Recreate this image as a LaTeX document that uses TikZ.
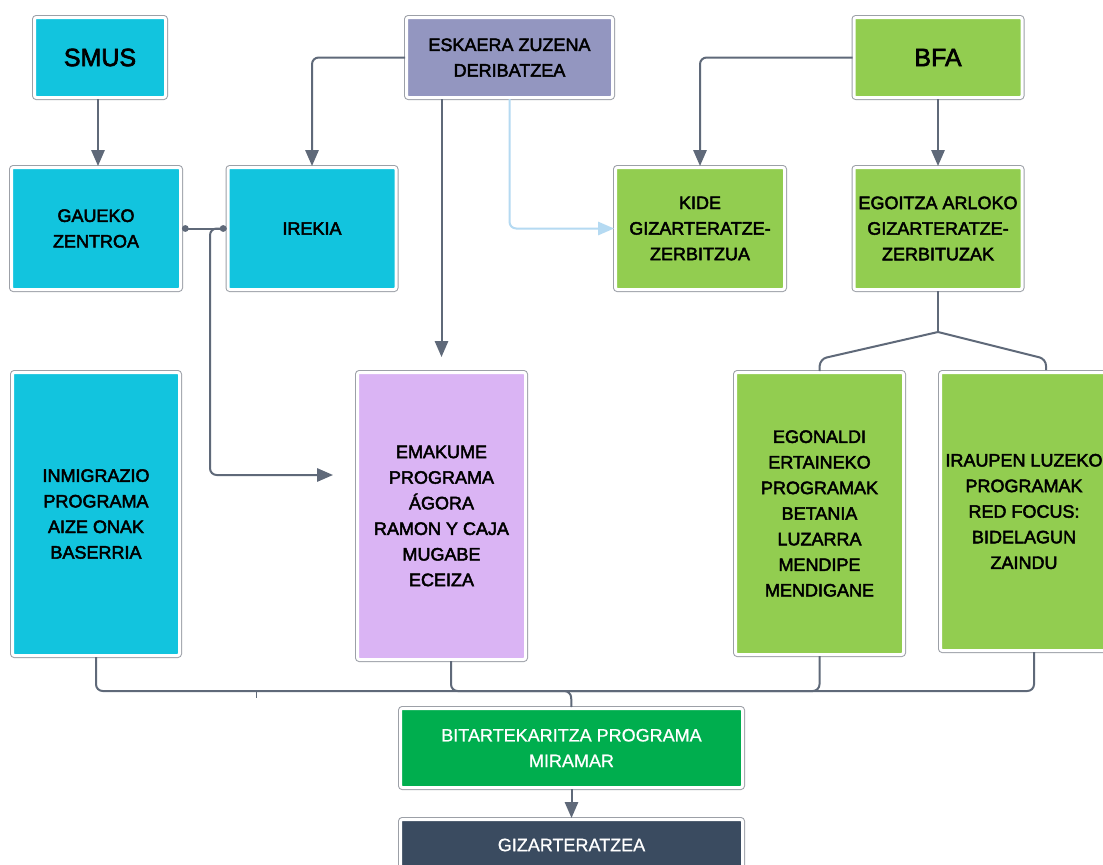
\documentclass[tikz,border=0pt]{standalone}
\usepackage{fontspec}
\setmainfont{Liberation Sans}[FakeBold=2.6]
\newfontfamily\plainfont{Liberation Sans}[FakeBold=0.8]
\usetikzlibrary{arrows.meta}
\definecolor{cyanbox}{HTML}{12C4DE}
\definecolor{purplebox}{HTML}{9396C0}
\definecolor{greenbox}{HTML}{92CD50}
\definecolor{lilacbox}{HTML}{DAB4F4}
\definecolor{darkgreen}{HTML}{00AE4E}
\definecolor{navybox}{HTML}{3A4B60}
\definecolor{edge}{HTML}{9CA0A7}
\definecolor{conn}{HTML}{5F6979}
\definecolor{lightblue}{HTML}{B5DAF2}
\tikzset{
  bx/.style={rectangle, rounded corners=1.5pt, inner sep=0pt, align=center,
    font=\fontsize{13.5pt}{19.2pt}\selectfont, text=black,
    preaction={draw=edge, line width=3.75pt},
    draw=white, line width=2.25pt},
  whitebx/.style={bx, text=white, font=\plainfont\fontsize{13.5pt}{19.2pt}\selectfont},
  big/.style={font=\fontsize{18.75pt}{22pt}\selectfont},
  line/.style={draw=conn, line width=1.5pt, rounded corners=5pt},
  arr/.style={line, -{Triangle[length=12pt,width=10pt]}},
  dotline/.style={draw=conn, line width=1.5pt, {Circle[length=5pt]}-{Circle[length=5pt]}},
}
\begin{document}
\begin{tikzpicture}[x=0.75pt,y=-0.75pt]
\useasboundingbox (0,0) rectangle (1103,864);
\clip (0,0) rectangle (1103,864);
\fill[white] (0,0) rectangle (1103,864);
% top row
\node[bx, big, fill=cyanbox, minimum width=98.25pt, minimum height=60pt] (smus) at (100,57.5) {SMUS};
\node[bx, fill=purplebox, minimum width=154.5pt, minimum height=60pt] (esk) at (509.5,57.5) {ESKAERA ZUZENA\\DERIBATZEA};
\node[bx, big, fill=greenbox, minimum width=126pt, minimum height=60pt] (bfa) at (938,57.5) {BFA};
% second row
\node[bx, fill=cyanbox, minimum width=126.75pt, minimum height=91.5pt] (gaueko) at (96,228.5) {GAUEKO\\ZENTROA};
\node[bx, fill=cyanbox, minimum width=126pt, minimum height=91.5pt] (irekia) at (312,228.5) {IREKIA};
\node[bx, fill=greenbox, minimum width=126.75pt, minimum height=91.5pt] (kide) at (700,228.5) {KIDE\\GIZARTERATZE-\\ZERBITZUA};
\node[bx, fill=greenbox, minimum width=126pt, minimum height=91.5pt] (egoitza) at (938,228.5) {EGOITZA ARLOKO\\GIZARTERATZE-\\ZERBITUZAK};
% third row
\node[bx, fill=cyanbox, minimum width=125.25pt, minimum height=212.25pt] (inmig) at (96,514) {INMIGRAZIO\\PROGRAMA\\AIZE ONAK\\BASERRIA};
\node[bx, fill=lilacbox, minimum width=126pt, minimum height=215.25pt] (emak) at (441.5,516) {EMAKUME\\PROGRAMA\\ÁGORA\\RAMON Y CAJA\\MUGABE\\ECEIZA};
\node[bx, fill=greenbox, minimum width=126pt, minimum height=211.5pt] (egon) at (819.5,513.5) {EGONALDI\\ERTAINEKO\\PROGRAMAK\\BETANIA\\LUZARRA\\MENDIPE\\MENDIGANE};
\node[bx, fill=greenbox, minimum width=125.25pt, minimum height=208.5pt] (iraup) at (1024,511.5) {IRAUPEN LUZEKO\\PROGRAMAK\\RED FOCUS:\\BIDELAGUN\\ZAINDU};
% bottom
\node[whitebx, fill=darkgreen, minimum width=256.5pt, minimum height=59.25pt] (bita) at (571.5,748) {BITARTEKARITZA PROGRAMA\\MIRAMAR};
\node[whitebx, fill=navybox, minimum width=256.5pt, minimum height=38.25pt] (giz) at (571.5,845) {GIZARTERATZEA};
% coordinates
\coordinate (emin) at (333,475);
\coordinate (split) at (938,332);
\coordinate (bus) at (571,691);
% connectors
\draw[arr] (smus.south -| 98,0) -- (gaueko.north -| 98,0);
\draw[arr] (esk.west) -| (irekia.north);
\draw[arr] (esk.south -| 441.5,0) -- (441.5,357);
\draw[line, draw=lightblue, -{Triangle[length=12pt,width=10pt]}] (esk.south) |- (kide.west);
\draw[arr] (bfa.west) -| (kide.north);
\draw[arr] (bfa.south) -- (egoitza.north);
\draw[dotline] (gaueko.east) -- (irekia.west);
\draw[arr] (irekia.west) -- (210,228.5) -- (210,475) -- (emin);
\draw[line] (egoitza.south) -- (split);
\draw[line] (split) -- (820,359) -- (egon.north);
\draw[line] (split) -- (1046,359) -- (1046,370);
% bus
\draw[line] (inmig.south) -- (96,691) -- (bus) -- (bita.north);
\draw[line] (emak.south -| 451,0) -- (451,691) -- (bus);
\draw[line] (egon.south) -- (819.5,691) -- (bus);
\draw[line] (iraup.south -| 1034,0) -- (1034,691) -- (bus);
\draw[draw=conn, line width=1pt] (256.5,691) -- (256.5,698);
\draw[arr] (bita.south) -- (giz.north);
\end{tikzpicture}
\end{document}
